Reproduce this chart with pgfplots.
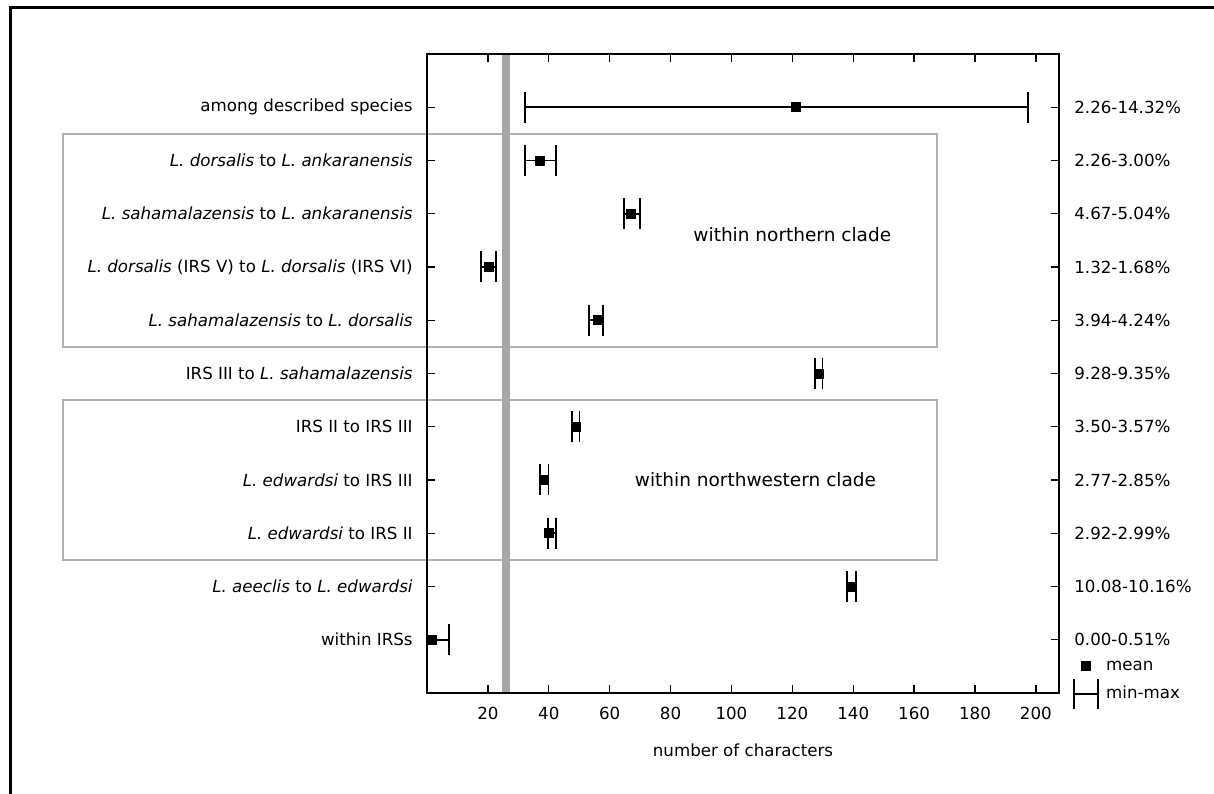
\documentclass[border=0pt]{standalone}
\usepackage{pgfplots}
\pgfplotsset{compat=1.18}
\usepackage{fontspec}
\setmainfont{DejaVu Sans}
\begin{document}
\begin{tikzpicture}
\useasboundingbox (0,0) rectangle (728.4pt,476.4pt);
% frame (top and left edges only)
\draw[line width=1.8pt] (6pt,0) -- (6pt,471.6pt) -- (728.4pt,471.6pt);

\pgfplotsset{rowaxis/.style={
  at={(256.2pt,60.6pt)}, anchor=south west,
  scale only axis, width=379.2pt, height=383.4pt,
  xmin=0, xmax=207.6, ymin=0, ymax=12,
  ytick={1,...,11},
}}

\begin{axis}[rowaxis,
  clip=false,
  axis on top,
  xtick={20,40,...,200},
  yticklabels={
    {within IRSs},
    {\textit{L. aeeclis} to \textit{L. edwardsi}},
    {\textit{L. edwardsi} to IRS II},
    {\textit{L. edwardsi} to IRS III},
    {IRS II to IRS III},
    {IRS III to \textit{L. sahamalazensis}},
    {\textit{L. sahamalazensis} to \textit{L. dorsalis}},
    {\textit{L. dorsalis} (IRS V) to \textit{L. dorsalis} (IRS VI)},
    {\textit{L. sahamalazensis} to \textit{L. ankaranensis}},
    {\textit{L. dorsalis} to \textit{L. ankaranensis}},
    {among described species}},
  axis line style={line width=0.8pt},
  every tick/.style={black, line width=0.8pt},
  major tick length=5pt,
  yticklabel style={xshift=-5.1pt},
  xticklabel style={yshift=-5pt},
  /pgf/number format/assume math mode=true,
  xlabel={number of characters},
  xlabel style={at={(axis description cs:0.5,0)}, anchor=center, yshift=-34.2pt},
  legend style={draw=none, fill=none, at={(1.0222,0.0567)}, anchor=north west,
    inner sep=0pt, row sep=1.5pt,
    nodes={inner xsep=4.2pt, inner ysep=1pt, text height=7pt, text depth=2pt}},
  legend cell align=left,
]
% clade boxes
\draw[gray!60, line width=1pt] (axis cs:-119.6,6.5) rectangle (axis cs:167.5,10.5);
\draw[gray!60, line width=1pt] (axis cs:-119.6,2.5) rectangle (axis cs:167.5,5.5);
% threshold band
\draw[gray!70, line width=4.8pt] (axis cs:26,0) -- (axis cs:26,12);

\node[font=\fontsize{11.1}{13}\selectfont] at (axis cs:120,8.6) {within northern clade};
\node[font=\fontsize{11.1}{13}\selectfont] at (axis cs:107.9,4.0) {within northwestern clade};

\addplot[black, only marks, mark=square*, mark size=2.7pt, forget plot,
  error bars/.cd, x dir=both, x explicit,
  error mark=|,
  error bar style={line width=1.1pt},
  error mark options={line width=1.1pt, mark size=9.3pt}]
  table[x=mean, y=row,
    x error plus expr=\thisrow{max}-\thisrow{mean},
    x error minus expr=\thisrow{mean}-\thisrow{min}] {
row mean min max
11 121 32.1 197.4
10 37 32.1 42.3
9 67 64.8 70.1
8 20.3 17.7 22.6
7 56.2 53.2 57.9
6 128.8 127.5 129.9
5 48.8 47.5 50.1
4 38.5 37.2 39.9
3 40.1 39.8 42.3
2 139.6 138 141
1 1.75 0 7.3
};

\addlegendimage{legend image code/.code={\fill[black] (4.5pt,-2.7pt) rectangle (9.9pt,2.7pt);}}
\addlegendentry{mean}
\addlegendimage{legend image code/.code={\draw[line width=1.1pt] (0,-9pt) -- (0,9pt) (0,0) -- (14.4pt,0) (14.4pt,-9pt) -- (14.4pt,9pt);}}
\addlegendentry{min-max}
\end{axis}

\begin{axis}[rowaxis,
  hide x axis,
  yticklabel pos=right,
  axis line style={draw=none},
  ytick style={draw=none},
  yticklabels={0.00-0.51\%, 10.08-10.16\%, 2.92-2.99\%, 2.77-2.85\%, 3.50-3.57\%,
    9.28-9.35\%, 3.94-4.24\%, 1.32-1.68\%, 4.67-5.04\%, 2.26-3.00\%, 2.26-14.32\%},
  yticklabel style={anchor=west, xshift=5.7pt},
]
\end{axis}
\end{tikzpicture}
\end{document}
